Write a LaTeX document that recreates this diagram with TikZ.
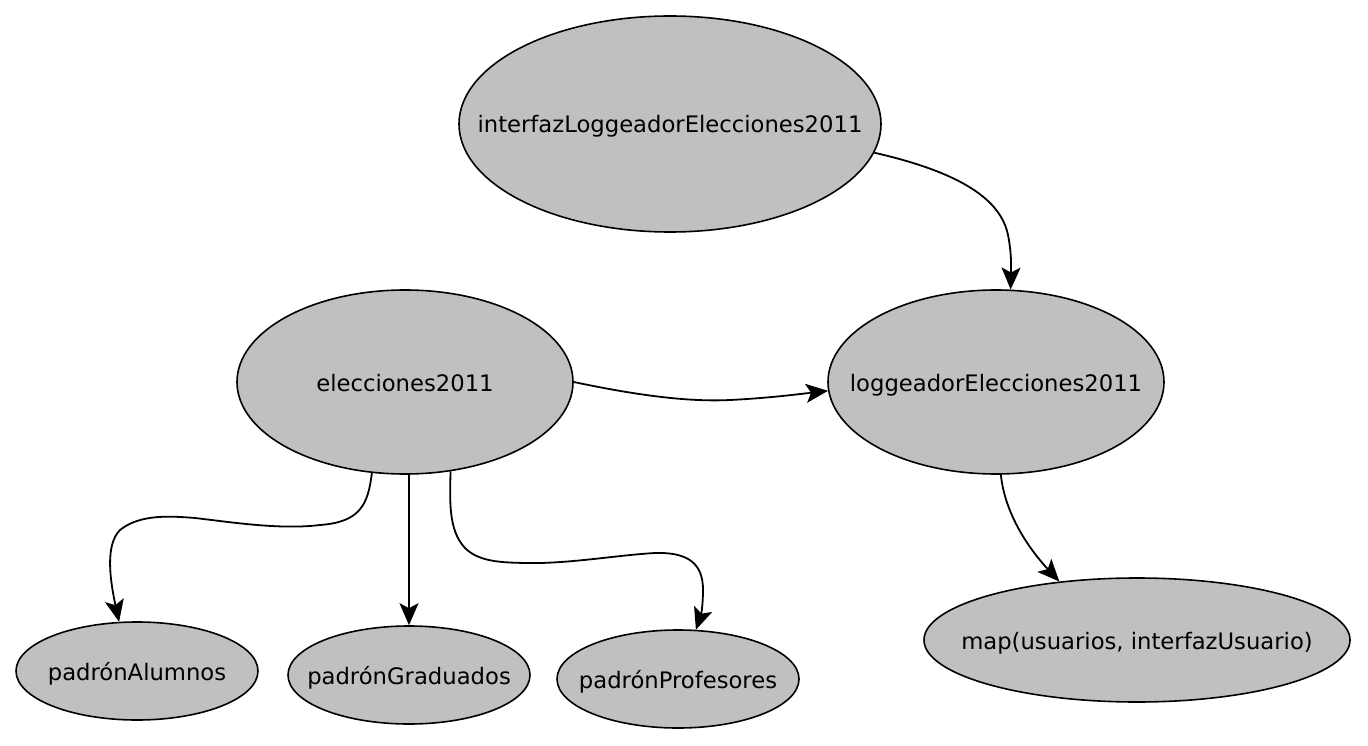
\documentclass[tikz,border=0pt]{standalone}
\usepackage{fontspec}
\setmainfont{DejaVu Sans}
\usetikzlibrary{shapes.geometric,arrows.meta}
\definecolor{nodegray}{RGB}{192,192,192}
\tikzset{
  ell/.style={ellipse,draw=black,fill=nodegray,line width=1.6pt,inner sep=0pt,
    font=\fontsize{22.7}{24}\selectfont,text height=18pt,text depth=0pt},
  conn/.style={line width=1.8pt,-{Stealth[length=22pt,width=19pt,inset=5pt]}}
}
\newcommand{\zw}[1]{\makebox[0pt]{#1}}
\begin{document}
\begin{tikzpicture}[x=1pt,y=-1pt]
\useasboundingbox (0,0) rectangle (1368,746);
\node[ell,minimum width=422pt,minimum height=216pt] (int) at (670,124) {\zw{interfazLoggeadorElecciones2011}};
\node[ell,minimum width=336pt,minimum height=184pt] (ele) at (405,382) {\zw{elecciones2011}};
\node[ell,minimum width=336pt,minimum height=184pt] (log) at (996,382) {\zw{loggeadorElecciones2011}};
\node[ell,minimum width=242pt,minimum height=98pt] (pA) at (137,671) {\zw{padrónAlumnos}};
\node[ell,minimum width=242pt,minimum height=98pt] (pG) at (409,675) {\zw{padrónGraduados}};
\node[ell,minimum width=242pt,minimum height=98pt] (pP) at (678,679) {\zw{padrónProfesores}};
\node[ell,minimum width=426pt,minimum height=124pt] (map) at (1137,640) {\zw{map(usuarios, interfazUsuario)}};

\draw[conn] (int.-8) .. controls (950,170) and (1000,195) .. (1008,235)
  .. controls (1012,255) and (1011,270) .. (log.81);
\draw[conn] (ele.east) .. controls (640,396) and (690,402) .. (730,400)
  .. controls (770,398) and (800,394) .. (log.183);
\draw[conn] (ele.250) .. controls (368,505) and (360,522) .. (320,525)
  .. controls (280,530) and (230,522) .. (195,518)
  .. controls (170,516) and (140,514) .. (120,530)
  .. controls (105,545) and (110,580) .. (pA.110);
\draw[conn] (pG.north |- ele.south) -- (pG.north);
\draw[conn] (ele.-63) .. controls (450,500) and (448,530) .. (465,548)
  .. controls (480,563) and (505,563) .. (540,563)
  .. controls (580,562) and (620,555) .. (655,553)
  .. controls (690,552) and (703,565) .. (703,590)
  .. controls (703,605) and (701,615) .. (pP.70);
\draw[conn] (log.-87) .. controls (1005,515) and (1030,550) .. (map.143);
\end{tikzpicture}
\end{document}
